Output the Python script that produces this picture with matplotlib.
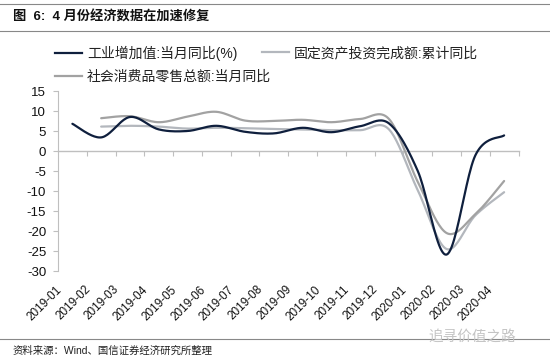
import numpy as np
import matplotlib
matplotlib.use('Agg')
import matplotlib.pyplot as plt
import matplotlib.transforms as mtransforms
from matplotlib.lines import Line2D

plt.rcParams['font.family'] = ['Liberation Sans', 'Noto Sans CJK SC', 'DejaVu Sans']
plt.rcParams['axes.unicode_minus'] = False

months = ['2019-01', '2019-02', '2019-03', '2019-04', '2019-05', '2019-06',
          '2019-07', '2019-08', '2019-09', '2019-10', '2019-11', '2019-12',
          '2020-01', '2020-02', '2020-03', '2020-04']
industry = [6.8, 3.4, 8.5, 5.4, 5.0, 6.3, 4.8, 4.4, 5.8, 4.7, 6.2, 6.9,
            -5.0, -25.9, -1.1, 3.9]
invest = [None, 6.1, 6.3, 6.1, 5.6, 5.8, 5.7, 5.5, 5.4, 5.2, 5.2, 5.4,
          -9.8, -24.5, -16.1, -10.3]
retail = [None, 8.2, 8.7, 7.2, 8.6, 9.8, 7.6, 7.5, 7.8, 7.2, 8.0, 8.0,
          -7.7, -20.5, -15.8, -7.5]

name_ind = '工业增加值:当月同比(%)'
name_inv = '固定资产投资完成额:累计同比'
name_ret = '社会消费品零售总额:当月同比'

C_IND = '#0f1f3d'
C_INV = '#b3b7bd'
C_RET = '#a2a2a2'
C_AX = '#bfbfbf'


def smooth(vals, n=24):
    # excel style smoothed line (bezier through the points)
    pts = np.array([(i, v) for i, v in enumerate(vals) if v is not None], float)
    out = []
    for i in range(len(pts) - 1):
        p0 = pts[max(i - 1, 0)]
        p1 = pts[i]
        p2 = pts[i + 1]
        p3 = pts[min(i + 2, len(pts) - 1)]
        c1 = p1 + (p2 - p0) / 6
        c2 = p2 - (p3 - p1) / 6
        t = np.linspace(0, 1, n)[:, None]
        seg = (1 - t)**3 * p1 + 3 * (1 - t)**2 * t * c1 + 3 * (1 - t) * t**2 * c2 + t**3 * p2
        out.append(seg if i == 0 else seg[1:])
    s = np.vstack(out)
    return s[:, 0], s[:, 1]


fig = plt.figure(figsize=(5.5, 3.62), dpi=100)
ax = fig.add_axes([58 / 550, 1 - 271 / 362, 460.5 / 550, 180 / 362])

LW = 1.6
for vals, c in [(invest, C_INV), (retail, C_RET), (industry, C_IND)]:
    xs, ys = smooth(vals)
    ax.plot(xs, ys, color=c, lw=LW, solid_capstyle='round')

x = np.arange(len(months))
ax.set_xlim(-0.5, len(months) - 0.5)
ax.set_ylim(-30, 15)
ax.set_yticks(np.arange(-30, 16, 5))
ax.tick_params(axis='y', direction='out', length=3.5, width=0.8, color=C_AX,
               labelsize=9.5, pad=5, labelcolor='#111111')
for s in ['top', 'right', 'bottom']:
    ax.spines[s].set_visible(False)
ax.spines['left'].set_color(C_AX)
ax.spines['left'].set_linewidth(0.8)

ax.set_xticks(x)
ax.set_xticklabels(months, rotation=45, ha='right', rotation_mode='anchor')
ax.tick_params(axis='x', length=0, labelsize=8.5, pad=9, labelcolor='#111111')
offset = mtransforms.ScaledTranslation(-0.17, 0, fig.dpi_scale_trans)
for lab in ax.get_xticklabels():
    lab.set_transform(lab.get_transform() + offset)

# zero line with category ticks
sec = ax.secondary_xaxis(30 / 45)
sec.set_alignment('bottom')
sec.set_xticks(np.arange(len(months)) + 0.5)
sec.tick_params(axis='x', direction='out', length=3.5, width=0.8, color=C_AX,
                labelbottom=False, labeltop=False)
sec.spines['bottom'].set_color(C_AX)
sec.spines['bottom'].set_linewidth(1.0)

# legend entries laid out like the excel legend
entries = [(C_IND, name_ind, 55, 53), (C_INV, name_inv, 262, 53),
           (C_RET, name_ret, 55, 77)]
for c, name, lx, ly in entries:
    fig.legend([Line2D([], [], color=c, lw=LW)], [name], loc='center left',
               bbox_to_anchor=(lx / 550, 1 - ly / 362), frameon=False,
               fontsize=10, handlelength=1.95, handletextpad=0.35,
               borderpad=0, borderaxespad=0, labelcolor='#222222')

# header / footer
fig.add_artist(Line2D([0, 1], [1 - 4 / 362, 1 - 4 / 362], color='#888888', lw=0.8))
fig.add_artist(Line2D([0, 1], [1 - 31 / 362, 1 - 31 / 362], color='#888888', lw=0.8))
fig.add_artist(Line2D([0, 1], [1 - 339 / 362, 1 - 339 / 362], color='#888888', lw=0.8))
fig.text(13 / 550, 1 - 17 / 362, '图  6:  4 月份经济数据在加速修复', fontsize=9.5,
         fontweight='bold', va='center', ha='left', color='#111111')
fig.text(13 / 550, 1 - 351 / 362, '资料来源：Wind、国信证券经济研究所整理', fontsize=7.5,
         va='center', ha='left', color='#222222')
fig.text(516 / 550, 1 - 337 / 362, '追寻价值之路', fontsize=10.5, va='center',
         ha='right', color='#c4c4c4')

fig.savefig('out.png', dpi=100)
